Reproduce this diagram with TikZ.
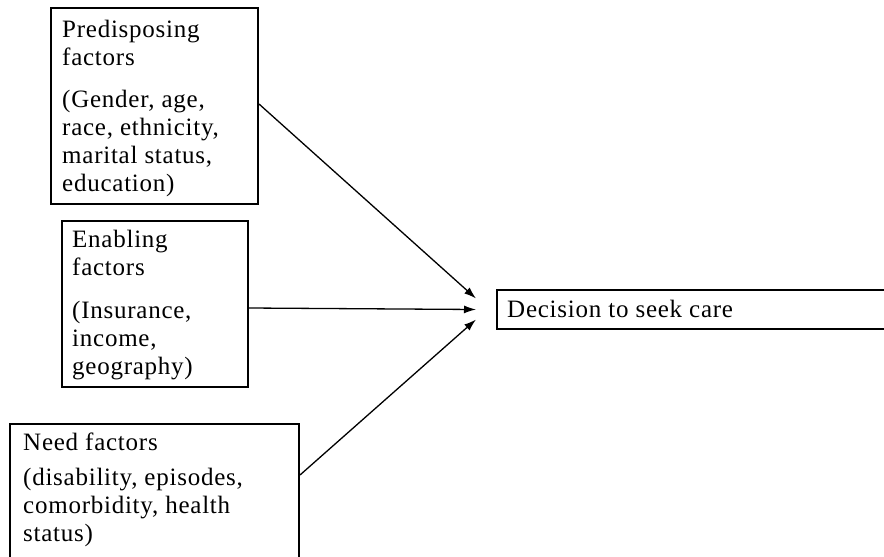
\documentclass[tikz,border=0pt]{standalone}
\usepackage{fontspec}
\setmainfont{Liberation Serif}[LetterSpace=3]
\usetikzlibrary{arrows.meta,calc}
\begin{document}
\begin{tikzpicture}[x=1pt,y=-1pt,
  box/.style={draw=black,line width=2pt,rectangle,inner sep=0pt,anchor=north west},
  txt/.style={inner sep=0pt,anchor=north west,align=left,font=\fontsize{25}{28}\selectfont},
  arr/.style={draw=black,line width=1.3pt,-{Latex[length=12pt,width=8pt]}}]
\useasboundingbox (0,0) rectangle (884,557);
\fill[white] (0,0) rectangle (884,557);
\clip (0,0) rectangle (884,557);
% boxes
\node[box,minimum width=207pt,minimum height=196pt] (p) at (50,7) {};
\node[box,minimum width=186pt,minimum height=166pt] (e) at (61,220) {};
\node[box,minimum width=289pt,minimum height=150pt] (n) at (9,423) {};
\node[box,minimum width=420pt,minimum height=39pt] (d) at (496,289) {};
% texts
\node[txt] (pt) at (62,17) {\rule{0pt}{20pt}Predisposing\\factors\\[14pt](Gender, age,\\race, ethnicity,\\marital status,\\education)};
\node[txt] (et) at (72,227) {\rule{0pt}{20pt}Enabling\\factors\\[15pt](Insurance,\\income,\\geography)};
\node[txt] (nt) at (23,430) {\rule{0pt}{20pt}Need factors\\[7pt](disability, episodes,\\comorbidity, health\\status)};
\node[txt,anchor=base west] (dt) at (507,317) {Decision to seek care};
% connectors
\coordinate (t1) at ($(d.west)+(-20,-11)$);
\coordinate (t2) at ($(d.west)+(-20,0)$);
\coordinate (t3) at ($(d.west)+(-20,10)$);
\draw[arr] ($(p.north east)+(0,97)$) -- (t1);
\draw[arr] ($(e.north east)+(0,88)$) -- (t2);
\draw[arr] ($(n.north east)+(0,52)$) -- (t3);
\end{tikzpicture}
\end{document}
